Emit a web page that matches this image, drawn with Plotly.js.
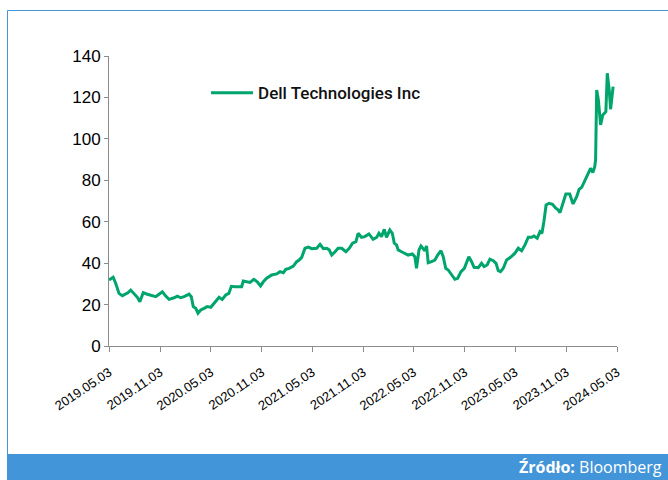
<!DOCTYPE html>
<html>
<head>
<meta charset="utf-8">
<script src="https://cdn.plot.ly/plotly-3.0.1.min.js"></script>
<style>
html,body{margin:0;padding:0;background:#fff;}
#chart{width:668px;height:480px;}
</style>
</head>
<body>
<div id="chart"></div>
<script>
const seriesName = "Dell Technologies Inc";
const dates = [
"2019-05-03","2019-05-18","2019-05-27","2019-06-08","2019-06-20","2019-07-02","2019-07-10","2019-07-20","2019-08-01","2019-08-13",
"2019-08-22","2019-09-03","2019-09-18","2019-10-06","2019-10-18","2019-10-30","2019-11-11","2019-11-23","2019-12-05","2019-12-23",
"2020-01-04","2020-01-16","2020-01-28","2020-02-15","2020-02-23","2020-03-01","2020-03-10","2020-03-18","2020-03-28","2020-04-09",
"2020-04-20","2020-05-03","2020-05-15","2020-05-26","2020-06-02","2020-06-13","2020-06-26","2020-07-07","2020-07-16","2020-07-29",
"2020-08-22","2020-08-28","2020-09-09","2020-09-21","2020-10-05","2020-10-17","2020-10-29","2020-11-08","2020-11-20","2020-12-08",
"2020-12-26","2021-01-07","2021-01-19","2021-01-28","2021-02-09","2021-02-24","2021-03-08","2021-03-17","2021-03-26","2021-04-07",
"2021-04-19","2021-05-01","2021-05-19","2021-05-31","2021-06-12","2021-06-24","2021-07-03","2021-07-12","2021-07-24","2021-08-04",
"2021-08-17","2021-09-01","2021-09-13","2021-09-25","2021-10-07","2021-10-15","2021-10-27","2021-11-08","2021-11-23","2021-11-30",
"2021-12-08","2021-12-21","2021-12-29","2022-01-07","2022-01-17","2022-01-25","2022-02-06","2022-02-15","2022-02-22","2022-03-02",
"2022-03-08","2022-03-20","2022-04-01","2022-04-13","2022-04-28","2022-05-07","2022-05-13","2022-05-22","2022-05-29","2022-06-06",
"2022-06-12","2022-06-18","2022-06-24","2022-07-06","2022-07-18","2022-07-28","2022-08-09","2022-08-17","2022-08-26","2022-09-04",
"2022-09-16","2022-09-28","2022-10-08","2022-10-20","2022-11-01","2022-11-09","2022-11-17","2022-11-27","2022-12-06","2022-12-21",
"2023-01-02","2023-01-11","2023-01-22","2023-02-01","2023-02-13","2023-02-23","2023-03-03","2023-03-11","2023-03-21","2023-04-02",
"2023-04-16","2023-05-02","2023-05-14","2023-05-26","2023-06-07","2023-06-19","2023-07-01","2023-07-09","2023-07-21","2023-07-31",
"2023-08-07","2023-08-14","2023-08-22","2023-09-02","2023-09-14","2023-09-26","2023-10-04","2023-10-11","2023-10-23","2023-11-01",
"2023-11-15","2023-11-27","2023-12-10","2023-12-19","2023-12-28","2024-01-09","2024-01-21","2024-01-29","2024-02-06","2024-02-13",
"2024-02-16","2024-02-20","2024-02-26","2024-03-05","2024-03-13","2024-03-24","2024-03-29","2024-04-05","2024-04-10","2024-04-19"
];
const prices = [
31.9,33.2,30.3,25.4,24.3,25.0,25.7,27.0,25.4,23.5,
21.4,25.7,25.0,24.3,23.8,25.0,26.2,24.1,22.5,23.3,
24.1,23.3,23.8,25.0,23.8,19.0,18.2,15.8,17.4,18.2,
19.0,18.7,20.6,22.2,23.5,22.5,24.6,25.4,28.8,28.6,
28.6,31.4,31.0,30.7,32.2,31.0,29.0,31.0,32.7,34.3,
34.8,35.9,35.4,37.0,37.5,38.6,40.7,41.5,42.8,47.2,
47.7,47.0,47.2,49.1,47.0,47.2,46.4,43.9,45.5,47.2,
47.2,45.5,47.2,49.6,50.4,54.4,52.5,52.8,54.1,53.1,
51.5,52.5,54.4,52.8,56.3,52.5,56.0,54.4,49.6,48.8,
46.4,45.5,44.8,43.9,44.4,43.1,37.5,46.4,48.3,47.2,
46.0,48.3,40.2,40.7,41.5,43.9,46.0,43.1,37.5,36.7,
34.3,32.2,32.7,35.9,37.5,40.7,43.1,40.7,38.0,37.8,
39.9,38.3,39.1,41.9,41.2,39.9,36.4,35.9,37.5,41.5,
42.8,44.8,47.2,46.0,48.8,52.5,52.5,53.1,52.0,55.2,
54.4,60.0,68.1,68.9,68.4,66.5,65.7,64.4,69.7,73.4,
73.4,68.6,72.1,75.7,76.6,80.2,83.4,85.8,83.7,86.6,
89.8,123.6,118.8,106.7,111.5,113.1,131.7,123.6,114.3,125.2
];
const xTickVals = ["2019-05-03","2019-11-03","2020-05-03","2020-11-03","2021-05-03","2021-11-03","2022-05-03","2022-11-03","2023-05-03","2023-11-03","2024-05-03"];
const xTickText = ["2019.05.03","2019.11.03","2020.05.03","2020.11.03","2021.05.03","2021.11.03","2022.05.03","2022.11.03","2023.05.03","2023.11.03","2024.05.03"];
const yTickVals = [0,20,40,60,80,100,120,140];
const sourceLabel = "<b>Źródło:</b> Bloomberg";

const blue = "#4395d9";
const trace = {
  x: dates, y: prices, type: "scatter", mode: "lines", name: seriesName,
  line: {color: "#00a56c", width: 3}
};
const layout = {
  width: 668, height: 480,
  margin: {l: 109, r: 51, t: 56, b: 134},
  paper_bgcolor: "#ffffff", plot_bgcolor: "#ffffff",
  font: {family: "Liberation Sans, Arial, sans-serif", color: "#000"},
  showlegend: true,
  legend: {x: 0.191, y: 0.872, xanchor: "left", yanchor: "middle", bgcolor: "rgba(0,0,0,0)",
           itemwidth: 42,
           font: {family: "Roboto, sans-serif", size: 17, color: "#111", weight: 500}},
  xaxis: {
    type: "date", range: ["2019-05-03","2024-05-03"],
    tickmode: "array", tickvals: xTickVals, ticktext: xTickText, tickangle: -34,
    tickfont: {size: 13, family: "Liberation Sans, Arial, sans-serif"},
    ticklabelstandoff: 8,
    showline: true, linecolor: "#8c8c8c", linewidth: 1, mirror: false,
    ticks: "outside", ticklen: 5, tickcolor: "#8c8c8c",
    showgrid: false, zeroline: false, fixedrange: true
  },
  yaxis: {
    range: [0, 140], tickmode: "array", tickvals: yTickVals,
    tickfont: {size: 17, family: "Liberation Sans, Arial, sans-serif"},
    showline: true, linecolor: "#8c8c8c", linewidth: 1,
    ticks: "outside", ticklen: 4, tickcolor: "#8c8c8c",
    showgrid: false, zeroline: false, fixedrange: true
  },
  shapes: [
    {type: "rect", xref: "paper", yref: "paper", x0: -0.2008, x1: 1.2, y0: -0.47, y1: -0.3724,
     fillcolor: blue, line: {width: 0}, layer: "below"},
    {type: "line", xref: "paper", yref: "paper", x0: -0.1998, x1: -0.1998, y0: -0.3724, y1: 1.1569,
     line: {color: blue, width: 1}},
    {type: "line", xref: "paper", yref: "paper", x0: -0.1998, x1: 1.2, y0: 1.1569, y1: 1.1569,
     line: {color: blue, width: 1}}
  ],
  annotations: [
    {text: sourceLabel, xref: "paper", yref: "paper", x: 1.0925, y: -0.417, xanchor: "right", yanchor: "middle",
     showarrow: false, font: {family: "Open Sans, sans-serif", size: 16, color: "#ffffff"}}
  ]
};
Plotly.newPlot("chart", [trace], layout, {displayModeBar: false, staticPlot: true});
</script>
</body>
</html>
